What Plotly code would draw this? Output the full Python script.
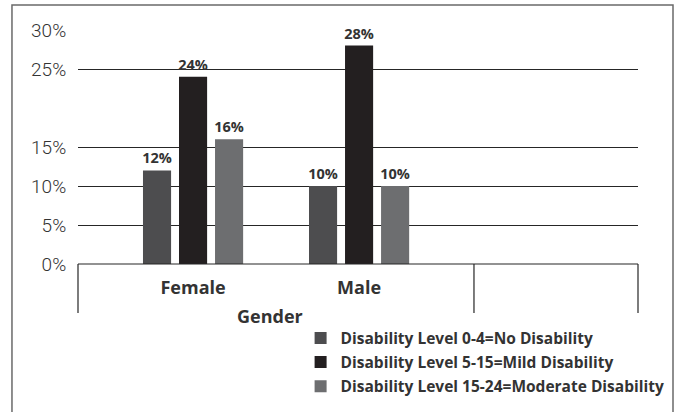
import plotly.graph_objects as go

# Survey results: share of respondents per disability level, by gender
genders = ["Female", "Male"]
no_disability = [12, 10]
mild_disability = [24, 28]
moderate_disability = [16, 10]

series_names = [
    "Disability Level 0-4=No Disability",
    "Disability Level 5-15=Mild Disability",
    "Disability Level 15-24=Moderate Disability",
]
series_colors = ["#4d4d4f", "#231f20", "#6d6e70"]

y_tick_values = [0, 5, 10, 15, 25, 30]
y_tick_labels = ["0%", "5%", "10%", "15%", "25%", "30%"]

axis_title = "Gender"

BOLD_FONT = "Open Sans, Arial, sans-serif"
TICK_FONT = "Roboto, Arial, sans-serif"

fig = go.Figure()
for i, (name, vals, color) in enumerate(
    zip(series_names, [no_disability, mild_disability, moderate_disability], series_colors)
):
    fig.add_trace(
        go.Bar(
            x=genders,
            y=vals,
            name=name,
            marker=dict(color=color, line=dict(width=0)),
            text=[f"{v}%" for v in vals],
            textposition="outside",
            constraintext="none",
            textfont=dict(family=BOLD_FONT, size=14.5, color="#333333", weight="bold"),
            legendgroup=f"g{i}",
            cliponaxis=False,
        )
    )

fig.update_layout(
    width=679,
    height=412,
    margin=dict(l=78, r=41, t=30, b=148, autoexpand=False),
    paper_bgcolor="white",
    plot_bgcolor="white",
    barmode="group",
    bargap=0.349,
    bargroupgap=0.22,
    showlegend=True,
    legend=dict(
        x=0.3975,
        xanchor="left",
        y=-0.245,
        yanchor="top",
        orientation="v",
        font=dict(family=BOLD_FONT, size=15.5, color="#333333", weight="bold"),
        tracegroupgap=1,
        itemwidth=30,
        bgcolor="rgba(0,0,0,0)",
    ),
    font=dict(family=BOLD_FONT, color="#333333"),
)

fig.update_xaxes(
    type="category",
    categoryorder="array",
    categoryarray=genders,
    range=[-0.693, 2.68],
    showgrid=False,
    showline=False,
    zeroline=False,
    ticks="outside",
    ticklen=7,
    tickcolor="rgba(0,0,0,0)",
    tickfont=dict(family=BOLD_FONT, size=18, color="#333333", weight="bold"),
)

fig.update_yaxes(
    range=[0, 30],
    tickvals=y_tick_values,
    ticktext=y_tick_labels,
    showgrid=True,
    gridcolor="#262626",
    gridwidth=1.2,
    zeroline=False,
    showline=False,
    ticks="outside",
    ticklen=7,
    tickcolor="rgba(0,0,0,0)",
    tickfont=dict(family=TICK_FONT, size=19, color="#333333", weight=300),
)

# Category-axis frame: baseline plus group dividers below the plot
line_style = dict(color="#262626", width=1.2)
fig.add_shape(type="line", xref="paper", yref="paper", x0=0, x1=1, y0=0, y1=0, line=line_style)
for xd in [0, 0.7071, 1]:
    fig.add_shape(type="line", xref="paper", yref="paper", x0=xd, x1=xd, y0=0, y1=-0.209, line=line_style)

# Outer chart border
fig.add_shape(
    type="rect", xref="paper", yref="paper",
    x0=-0.1179, x1=1.0625, y0=-0.7, y1=1.1068,
    line=dict(color="#6a6a6a", width=1.5),
)

fig.add_annotation(
    text=axis_title, xref="paper", yref="paper",
    x=0.343, y=-0.222, xanchor="center", yanchor="middle",
    showarrow=False,
    font=dict(family=BOLD_FONT, size=18, color="#333333", weight="bold"),
)

fig.write_html("out.html")
